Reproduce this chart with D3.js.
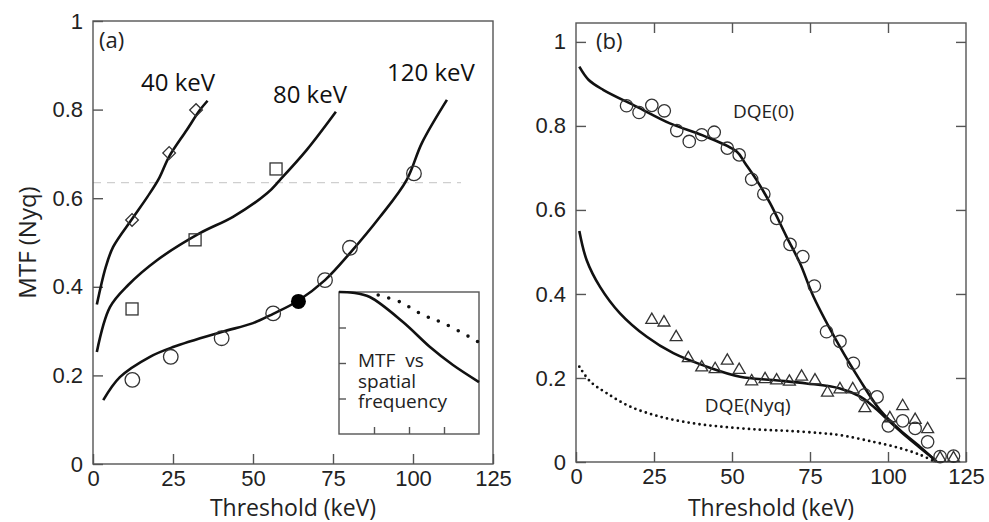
<!DOCTYPE html>
<html>
<head>
<meta charset="utf-8" />
<title>MTF and DQE vs threshold</title>
<script src="https://cdn.jsdelivr.net/npm/d3@7"></script>
<style>
	body { margin: 0; background: #fff; }
	svg { display: block; font-family: "Open Sans", sans-serif; }
	.frame { fill: none; stroke: #555; stroke-width: 1.4; }
	.tick line { stroke: #555; stroke-width: 1.4; }
	.tick text { fill: #222; font-size: 22px; }
	.fit { fill: none; stroke: #111; stroke-width: 2.6; }
	.mk { fill: none; stroke: #333; stroke-width: 1.3; }
</style>
</head>
<body>
<svg width="989" height="522"></svg>
<script>
// ---- panel (a): MTF at Nyquist vs threshold ----
const xTicks = [0, 25, 50, 75, 100, 125];
const yTicksA = [0, 0.2, 0.4, 0.6, 0.8, 1];
const yTicksB = [0, 0.2, 0.4, 0.6, 0.8, 1];

const kev40X = [12.2, 23.8, 32.2];
const kev40Y = [0.551, 0.702, 0.799];
const kev80X = [12.2, 31.9, 57.2];
const kev80Y = [0.35, 0.506, 0.666];
const kev120X = [12.3, 24.3, 40.2, 56.3, 72.5, 80.3, 100.3];
const kev120Y = [0.19, 0.242, 0.284, 0.34, 0.415, 0.488, 0.656];
const filledX = [64.2];
const filledY = [0.367];

const fit40 = [[1.2,0.36],[4,0.445],[6.3,0.49],[12.2,0.553],[17,0.603],[20.5,0.643],[23.8,0.694],[29.3,0.754],[33.4,0.799],[35.8,0.82]];
const fit80 = [[1.2,0.253],[5.3,0.354],[11,0.404],[20,0.46],[33.4,0.521],[43.75,0.558],[54.4,0.611],[58.4,0.641],[66.8,0.709],[75.9,0.795]];
const fit120 = [[3.2,0.144],[8.4,0.196],[17.8,0.242],[25,0.264],[40.2,0.298],[50,0.318],[56.3,0.339],[64,0.368],[72.5,0.415],[80.3,0.476],[89.7,0.558],[98,0.641],[102.8,0.725],[110.6,0.822]];
const refLevel = 0.635;   // gray dashed line

// inset: MTF vs spatial frequency (normalised)
const insetSolid = [[0,1],[0.1,0.995],[0.22,0.965],[0.457,0.789],[0.65,0.613],[0.814,0.486],[1,0.366]];
const insetDotted = [[0,1],[0.28,0.979],[0.436,0.93],[0.6,0.838],[0.743,0.782],[0.971,0.662],[1,0.645]];
const insetLines = ['MTF  vs', 'spatial', 'frequency'];

// ---- panel (b): DQE vs threshold ----
const dqe0X = [16.2,20.2,24.3,28.3,32.3,36.3,40.3,44.3,48.5,52.3,56.3,60.2,64.3,68.6,72.7,76.4,80.3,84.6,88.9,92.5,96.5,100.1,104.7,108.7,112.7,116.7,121];
const dqe0Y = [0.848,0.832,0.849,0.836,0.789,0.763,0.779,0.785,0.747,0.731,0.673,0.638,0.58,0.518,0.489,0.419,0.31,0.287,0.235,0.16,0.155,0.086,0.098,0.08,0.048,0.013,0.014];
const dqeNX = [24.3,28.2,32.1,36,40.3,44.6,48.5,52.3,56.3,60.6,64.3,68.4,72.3,76.6,80.6,84.6,88.7,92.6,100.6,104.7,108.7,112.7,116.7,121];
const dqeNY = [0.338,0.332,0.297,0.247,0.225,0.221,0.241,0.219,0.192,0.197,0.194,0.191,0.203,0.194,0.165,0.173,0.173,0.128,0.104,0.133,0.1,0.078,0.009,0.009];

const fitDqe0 = [[1.06,0.941],[4,0.91],[8.7,0.886],[19.4,0.846],[30.1,0.806],[40.8,0.777],[51.5,0.739],[54.2,0.711],[57.9,0.671],[62.2,0.616],[67.5,0.536],[71.8,0.473],[76.1,0.394],[84.6,0.274],[91,0.195],[97.4,0.124],[103.8,0.076],[110.3,0.036],[115.6,0.001]];
const fitDqeN = [[1.06,0.55],[3.4,0.481],[7.7,0.417],[14.1,0.354],[22.7,0.298],[31.2,0.259],[41.9,0.227],[52.6,0.203],[63.2,0.195],[73.9,0.187],[84.6,0.175],[91,0.156],[95.3,0.132],[100.6,0.096],[106,0.06],[112.4,0.021],[115,0.005]];
const dottedDqeN = [[1.06,0.227],[4.5,0.192],[9.8,0.164],[17.3,0.132],[26.9,0.108],[37.6,0.092],[48.3,0.083],[59,0.077],[68,0.074],[78,0.069],[84.6,0.064],[95.3,0.048],[103.8,0.033],[110.3,0.017],[114.4,0.003]];

const svg = d3.select('svg');
const fmt = d3.format('~g');

// scales
const xA = d3.scaleLinear().domain([0, 125]).range([93, 493]);
const yA = d3.scaleLinear().domain([0, 1]).range([464, 21]);
const xB = d3.scaleLinear().domain([0, 125]).range([576, 966]);
const yB = d3.scaleLinear().domain([0, 1.045]).range([462, 23]);

function frame(x, y) {
	svg.append('rect').attr('class', 'frame')
		.attr('x', x.range()[0]).attr('y', y.range()[1])
		.attr('width', x.range()[1] - x.range()[0])
		.attr('height', y.range()[0] - y.range()[1]);
}
function cleanAxis(g) { g.select('.domain').remove(); }

function line(x, y, curve) {
	return d3.line().x(d => x(d[0])).y(d => y(d[1])).curve(curve || d3.curveCatmullRom.alpha(0.5));
}

// ---------- panel (a) ----------
svg.append('line')
	.attr('x1', xA(0)).attr('x2', xA(115))
	.attr('y1', yA(refLevel)).attr('y2', yA(refLevel))
	.attr('stroke', '#cfcfcf').attr('stroke-width', 1.2).attr('stroke-dasharray', '8,6');

svg.append('g').attr('transform', `translate(0,${yA(0)})`)
	.call(d3.axisBottom(xA).tickValues(xTicks).tickFormat(fmt).tickSizeInner(-10).tickSizeOuter(0).tickPadding(6))
	.call(cleanAxis);
svg.append('g').attr('transform', `translate(${xA(0)},0)`)
	.call(d3.axisLeft(yA).tickValues(yTicksA).tickFormat(fmt).tickSizeInner(-10).tickSizeOuter(0).tickPadding(10))
	.call(cleanAxis);
frame(xA, yA);

[fit40, fit80, fit120].forEach(f => {
	svg.append('path').attr('class', 'fit').attr('d', line(xA, yA)(f));
});

// diamonds 40 keV
svg.selectAll('.dia').data(d3.zip(kev40X, kev40Y)).enter().append('path')
	.attr('class', 'mk').attr('d', d3.symbol(d3.symbolSquare, 80)())
	.attr('transform', d => `translate(${xA(d[0])},${yA(d[1])}) rotate(45)`);
// squares 80 keV
svg.selectAll('.sq').data(d3.zip(kev80X, kev80Y)).enter().append('rect')
	.attr('class', 'mk').attr('width', 12).attr('height', 12)
	.attr('x', d => xA(d[0]) - 6).attr('y', d => yA(d[1]) - 6);
// circles 120 keV
svg.selectAll('.c120').data(d3.zip(kev120X, kev120Y)).enter().append('circle')
	.attr('class', 'mk').attr('r', 7.3)
	.attr('cx', d => xA(d[0])).attr('cy', d => yA(d[1]));
svg.selectAll('.cfill').data(d3.zip(filledX, filledY)).enter().append('circle')
	.attr('r', 7.5).attr('fill', '#000')
	.attr('cx', d => xA(d[0])).attr('cy', d => yA(d[1]));

svg.append('text').attr('x', 99).attr('y', 48).attr('font-size', 22).attr('fill', '#222').text('(a)');
[['40 keV', 26.6, 0.842], ['80 keV', 67.8, 0.815], ['120 keV', 105.6, 0.865]].forEach(t => {
	svg.append('text').attr('x', xA(t[1])).attr('y', yA(t[2]))
		.attr('text-anchor', 'middle').attr('font-size', 24).attr('fill', '#111').text(t[0]);
});

svg.append('text').attr('x', xA(62.5)).attr('y', 516)
	.attr('text-anchor', 'middle').attr('font-size', 23).attr('fill', '#222').text('Threshold (keV)');
svg.append('text').attr('transform', `translate(36,${yA(0.5)}) rotate(-90)`)
	.attr('text-anchor', 'middle').attr('font-size', 24).attr('fill', '#222').text('MTF (Nyq)');

// inset
const xI = d3.scaleLinear().domain([0, 1]).range([339, 479]);
const yI = d3.scaleLinear().domain([0, 1]).range([434, 292]);
svg.append('rect').attr('x', 339).attr('y', 292).attr('width', 140).attr('height', 142).attr('fill', '#fff');
svg.append('g').attr('transform', `translate(0,${yI(0)})`)
	.call(d3.axisBottom(xI).tickValues([0.25, 0.5, 0.75]).tickFormat('').tickSizeInner(-7).tickSizeOuter(0))
	.call(cleanAxis);
svg.append('g').attr('transform', `translate(${xI(0)},0)`)
	.call(d3.axisLeft(yI).tickValues([0.25, 0.5, 0.75]).tickFormat('').tickSizeInner(-7).tickSizeOuter(0))
	.call(cleanAxis);
frame(xI, yI);
svg.append('path').attr('class', 'fit').attr('d', line(xI, yI)(insetSolid));
svg.append('path').attr('fill', 'none').attr('stroke', '#111').attr('stroke-width', 3.6)
	.attr('stroke-linecap', 'round').attr('stroke-dasharray', '0,11')
	.attr('d', line(xI, yI)(insetDotted.slice(1)));
const insetText = svg.append('text').attr('x', 358).attr('y', 367)
	.attr('font-size', 19).attr('fill', '#222').style('white-space', 'pre');
insetText.selectAll('tspan').data(insetLines).enter().append('tspan')
	.attr('x', 358).attr('dy', (d, i) => i ? 20.5 : 0).text(d => d);

// ---------- panel (b) ----------
svg.append('g').attr('transform', `translate(0,${yB(0)})`)
	.call(d3.axisBottom(xB).tickValues(xTicks).tickFormat(fmt).tickSizeInner(-10).tickSizeOuter(0).tickPadding(6))
	.call(cleanAxis);
svg.append('g').attr('transform', `translate(${xB(0)},0)`)
	.call(d3.axisLeft(yB).tickValues(yTicksB).tickFormat(fmt).tickSizeInner(-10).tickSizeOuter(0).tickPadding(10))
	.call(cleanAxis);
svg.append('g').attr('transform', `translate(0,${yB.range()[1]})`)
	.call(d3.axisTop(xB).tickValues(xTicks.slice(1, -1)).tickFormat('').tickSizeInner(-10).tickSizeOuter(0))
	.call(cleanAxis);
svg.append('g').attr('transform', `translate(${xB(125)},0)`)
	.call(d3.axisRight(yB).tickValues(yTicksB.slice(1)).tickFormat('').tickSizeInner(-10).tickSizeOuter(0))
	.call(cleanAxis);
frame(xB, yB);

svg.append('path').attr('fill', 'none').attr('stroke', '#111').attr('stroke-width', 2.8)
	.attr('stroke-linecap', 'round').attr('stroke-dasharray', '0,5.5')
	.attr('d', line(xB, yB)(dottedDqeN));
svg.append('path').attr('class', 'fit').attr('d', line(xB, yB)(fitDqe0));
svg.append('path').attr('class', 'fit').attr('d', line(xB, yB)(fitDqeN));

svg.selectAll('.c0').data(d3.zip(dqe0X, dqe0Y)).enter().append('circle')
	.attr('class', 'mk').attr('r', 6.2)
	.attr('cx', d => xB(d[0])).attr('cy', d => yB(d[1]));
svg.selectAll('.tri').data(d3.zip(dqeNX, dqeNY)).enter().append('path')
	.attr('class', 'mk').attr('d', d3.symbol(d3.symbolTriangle, 62)())
	.attr('transform', d => `translate(${xB(d[0])},${yB(d[1])})`);

svg.append('text').attr('x', 596).attr('y', 49).attr('font-size', 22).attr('fill', '#222').text('(b)');
svg.append('text').attr('x', xB(50.3)).attr('y', yB(0.819)).attr('font-size', 19).attr('fill', '#222').text('DQE(0)');
svg.append('text').attr('x', xB(41.3)).attr('y', yB(0.119)).attr('font-size', 19).attr('fill', '#222').text('DQE(Nyq)');
svg.append('text').attr('x', xB(62.5)).attr('y', 516)
	.attr('text-anchor', 'middle').attr('font-size', 23).attr('fill', '#222').text('Threshold (keV)');
</script>
</body>
</html>
